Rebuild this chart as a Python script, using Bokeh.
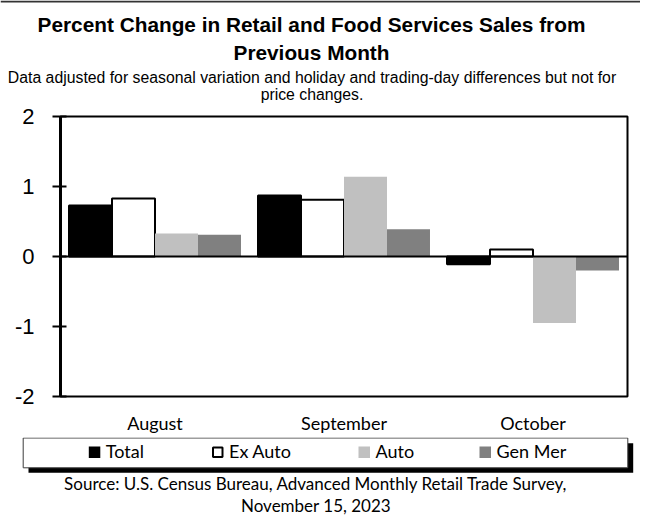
from bokeh.plotting import figure
from bokeh.models import ColumnDataSource, FactorRange, Range1d, FixedTicker, Span, Div
from bokeh.transform import dodge
from bokeh.layouts import column, row
from bokeh.core.properties import value
from bokeh.embed import file_html
from bokeh.resources import INLINE

# ---- data ----
months = ["August", "September", "October"]
series = ["Total", "Ex Auto", "Auto", "Gen Mer"]
total = [0.73, 0.87, -0.11]
ex_auto = [0.83, 0.81, 0.10]
auto = [0.33, 1.14, -0.95]
gen_mer = [0.31, 0.39, -0.20]
y_ticks = [-2, -1, 0, 1, 2]

title_lines = ["Percent Change in Retail and Food Services Sales from", "Previous Month"]
subtitle_lines = ["Data adjusted for seasonal variation and holiday and trading-day differences but not for",
                  "price changes."]
source_lines = ["Source: U.S. Census Bureau, Advanced Monthly Retail Trade Survey,",
                "November 15, 2023"]

fills = ["#000000", "#ffffff", "#c0c0c0", "#808080"]
lines = ["#000000", "#000000", None, None]
cols = ["total", "ex_auto", "auto", "gen_mer"]

W = 640
SANS = "Liberation Sans"
CAL = "Lato"
K = 0.39  # baseline correction (fraction of font size)


def by(y, size):
    return y - K * size


# ---- title figure (coordinates = page pixels) ----
TH = 103
tf = figure(width=W, height=TH, x_range=Range1d(0, W), y_range=Range1d(TH, 0),
            output_backend="svg", toolbar_location=None, min_border=0, frame_align=False,
            x_axis_location=None, y_axis_location=None, outline_line_color=None)
tf.grid.visible = False
tf.segment(x0=[0], y0=[1], x1=[W], y1=[1], line_color="#333333", line_width=2)
tsrc = ColumnDataSource(dict(x=[311, 311], y=[by(31.7, 20.8), by(60, 20.8)], t=title_lines))
tf.text(x="x", y="y", text="t", source=tsrc, text_align="center", text_baseline="alphabetic",
        text_font=value(SANS), text_font_style="bold", text_font_size="20.8px", text_color="#000000")
ssrc = ColumnDataSource(dict(x=[311.5, 311.5], y=[by(83.3, 15.8), by(99.8, 15.8)], t=subtitle_lines))
tf.text(x="x", y="y", text="t", source=ssrc, text_align="center", text_baseline="alphabetic",
        text_font=value(SANS), text_font_size="15.8px", text_color="#000000")

# ---- chart figure ----
CH = 437 - TH
p = figure(width=W, height=CH, x_range=FactorRange(*months), y_range=Range1d(-2, 2),
           output_backend="svg", toolbar_location=None, frame_align=False,
           min_border_left=60, min_border_right=W - 60 - 567,
           min_border_top=116 - TH, min_border_bottom=CH - (116 - TH) - 280)
src = ColumnDataSource(dict(month=months, total=total, ex_auto=ex_auto, auto=auto, gen_mer=gen_mer))
bw = 0.2275
offsets = [-1.5 * bw, -0.5 * bw, 0.5 * bw, 1.5 * bw]
for c, off, fc, lc in zip(cols, offsets, fills, lines):
    p.vbar(x=dodge("month", off, range=p.x_range), top=c, bottom=0, width=bw, source=src,
           fill_color=fc, line_color=lc, line_width=2)
p.add_layout(Span(location=0, dimension="width", line_color="black", line_width=2))
p.grid.visible = False
p.outline_line_color = "black"
p.outline_line_width = 2
p.yaxis.ticker = FixedTicker(ticks=y_ticks)
p.yaxis.major_label_overrides = {t: str(t) for t in y_ticks}
p.yaxis.axis_line_width = 3
p.yaxis.axis_line_color = "black"
p.yaxis.major_tick_line_width = 2
p.yaxis.major_tick_line_color = "black"
p.yaxis.major_tick_out = 8
p.yaxis.major_tick_in = 6
p.yaxis.minor_tick_line_color = None
p.yaxis.major_label_text_font = SANS
p.yaxis.major_label_text_font_size = "22px"
p.yaxis.major_label_text_color = "black"
p.yaxis.major_label_standoff = 18
p.xaxis.axis_line_color = None
p.xaxis.major_tick_line_color = None
p.xaxis.major_tick_out = 0
p.xaxis.major_tick_in = 0
p.xaxis.minor_tick_line_color = None
p.xaxis.major_label_text_font = CAL
p.xaxis.major_label_text_font_size = "18px"
p.xaxis.major_label_text_color = "black"
p.xaxis.major_label_standoff = 15

# ---- legend / source figure (coordinates = page pixels) ----
lg = figure(width=W, height=83, x_range=Range1d(0, W), y_range=Range1d(520, 437),
            output_backend="svg", toolbar_location=None, min_border=0, frame_align=False,
            x_axis_location=None, y_axis_location=None, outline_line_color=None)
lg.grid.visible = False
lg.quad(left=[28], right=[632.7], top=[442.7], bottom=[472.3], fill_color="black", line_color=None)
lg.quad(left=[22.7], right=[627.3], top=[437.5], bottom=[467.3], fill_color="white",
        line_color="#3c3c3c", line_width=1)
sq_x = [88.3, 211.5, 358, 479]
sq = 11.5
lsrc = ColumnDataSource(dict(l=sq_x, r=[x + sq for x in sq_x], t=[446.0] * 4, b=[457.5] * 4,
                             fc=fills, name=series, tx=[x + sq + 5.5 for x in sq_x],
                             ty=[by(457.5, 18)] * 4))
lg.quad(left="l", right="r", top="t", bottom="b", source=lsrc, fill_color="fc", line_color=None)
lg.quad(left=[sq_x[1] + 1], right=[sq_x[1] + sq - 1], top=[447.0], bottom=[456.5],
        fill_color="white", line_color="black", line_width=2)
lg.text(x="tx", y="ty", text="name", source=lsrc, text_align="left", text_baseline="alphabetic",
        text_font=value(CAL), text_font_size="18px", text_color="black")
srcsrc = ColumnDataSource(dict(x=[315.5, 315.5], y=[by(489.3, 17), by(511.7, 17)], t=source_lines))
lg.text(x="x", y="y", text="t", source=srcsrc, text_align="center", text_baseline="alphabetic",
        text_font=value(CAL), text_font_size="17px", text_color="black")

border = Div(width=2, height=520, styles={"background-color": "#333333"})
layout = row(column(tf, p, lg), border)

open("out.html", "w").write(file_html(layout, INLINE))
